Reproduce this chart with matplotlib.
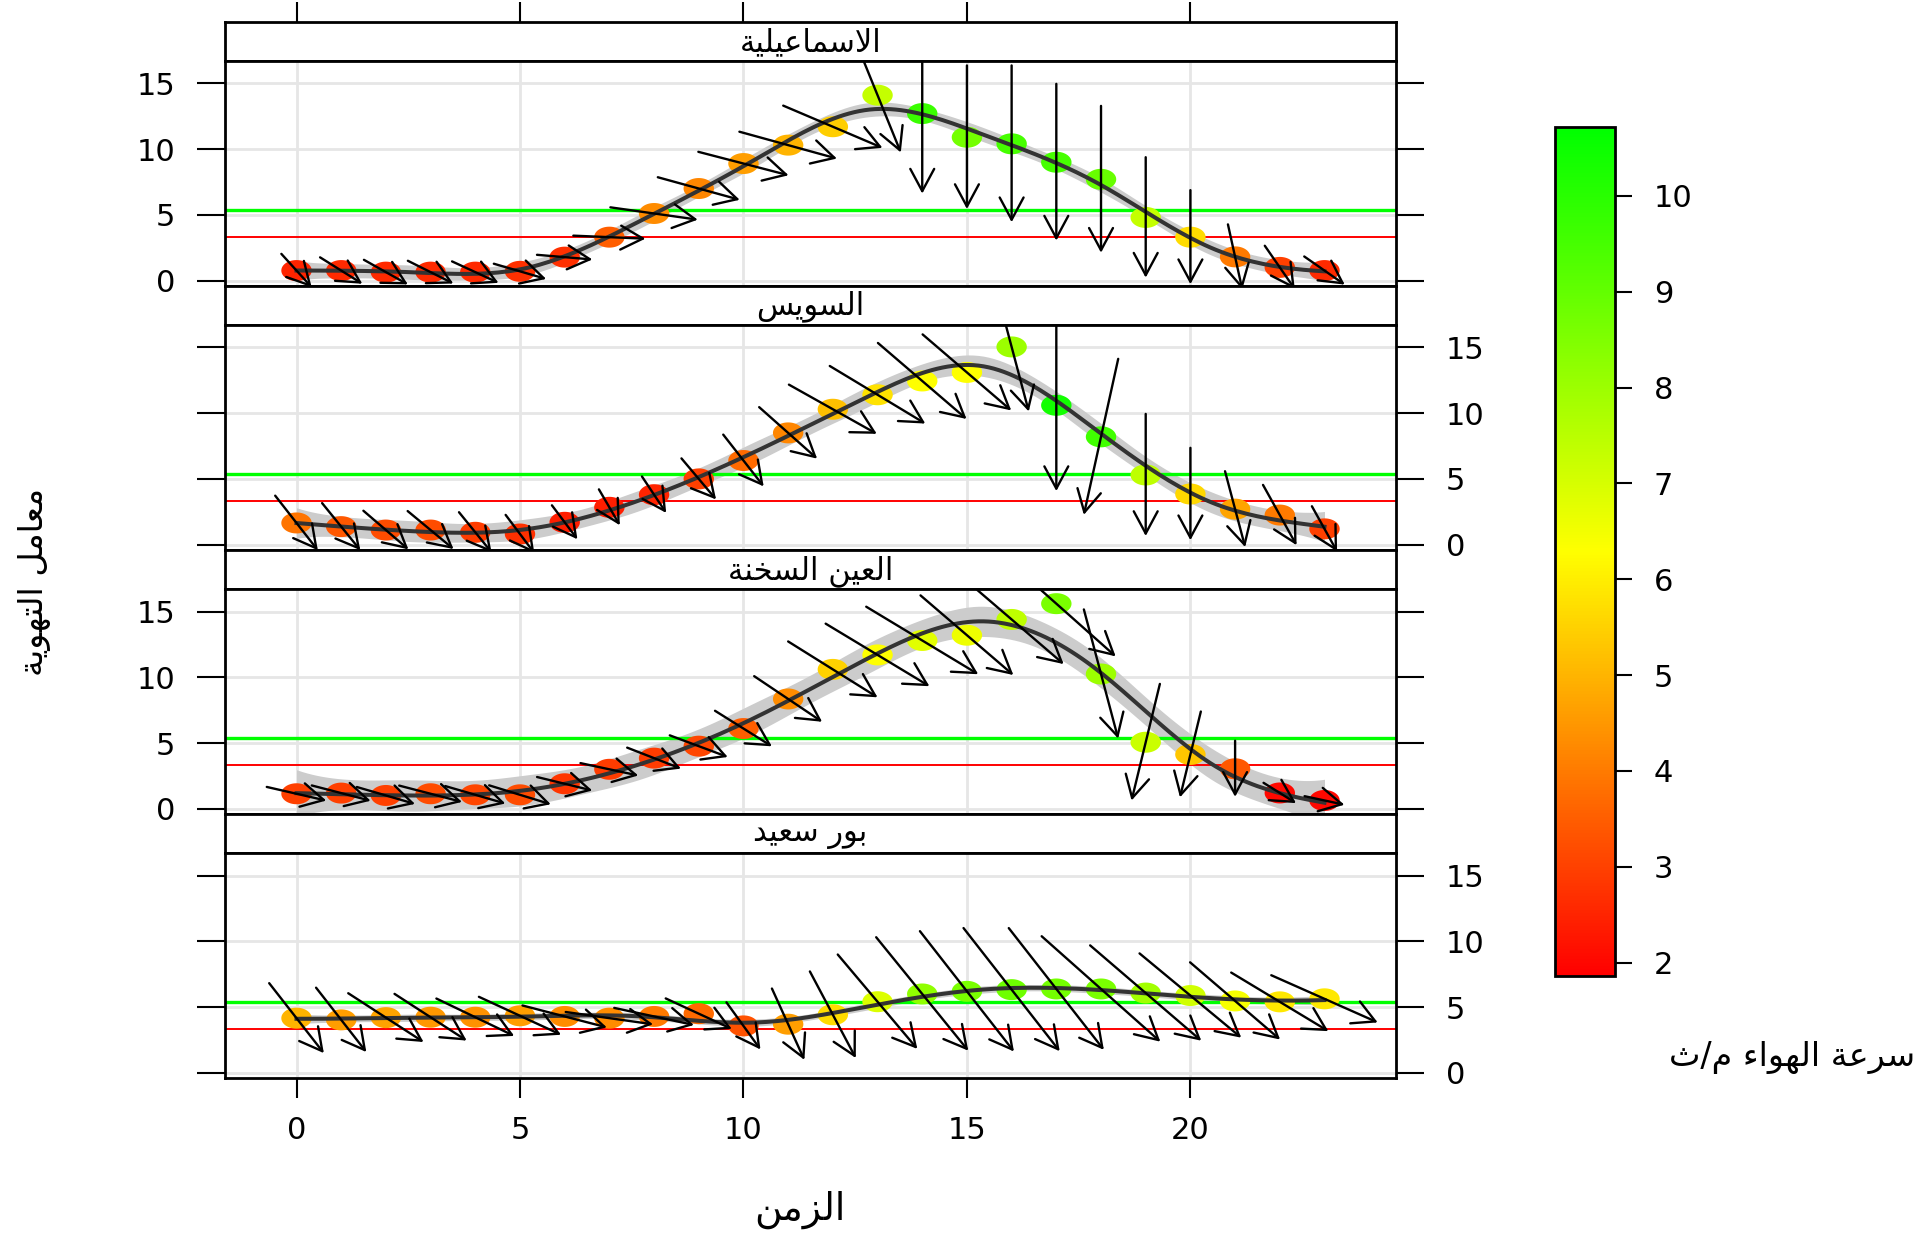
import numpy as np
import matplotlib
matplotlib.use("Agg")
import matplotlib.pyplot as plt
from matplotlib.colors import LinearSegmentedColormap, Normalize
from matplotlib.cm import ScalarMappable
from matplotlib.patches import FancyArrowPatch
from matplotlib.path import Path

plt.rcParams['font.family'] = ['DejaVu Sans']

# ---- data ----
hours = list(range(24))
stations = ['الاسماعيلية', 'السويس', 'العين السخنة', 'بور سعيد']

# ventilation coefficient
vc_ismailia = [0.76, 0.76, 0.64, 0.64, 0.64, 0.7, 1.78, 3.3, 5.1, 7.0, 8.9, 10.3,
               11.7, 14.1, 12.7, 10.9, 10.4, 9.0, 7.7, 4.8, 3.3, 1.8, 1.0, 0.76]
vc_suez = [1.65, 1.37, 1.11, 1.11, 0.94, 0.81, 1.7, 2.84, 3.8, 5.0, 6.4, 8.5,
           10.3, 11.4, 12.45, 13.1, 15.04, 10.6, 8.2, 5.3, 3.85, 2.7, 2.25, 1.2]
vc_sokhna = [1.14, 1.19, 1.01, 1.14, 1.06, 1.06, 1.9, 3.0, 3.85, 4.76, 6.1, 8.35,
             10.6, 11.7, 12.8, 13.2, 14.4, 15.6, 10.25, 5.06, 4.13, 3.04, 1.2, 0.63]
vc_portsaid = [4.16, 4.03, 4.2, 4.23, 4.23, 4.34, 4.29, 4.16, 4.29, 4.5, 3.57, 3.7,
               4.42, 5.41, 6.0, 6.2, 6.33, 6.38, 6.38, 6.07, 5.88, 5.47, 5.4, 5.63]

# wind speed (m/s)
ws_ismailia = [2.5, 2.6, 2.6, 2.6, 2.6, 2.7, 2.7, 3.5, 4.3, 4.2, 4.6, 5.0,
               5.45, 7.3, 9.7, 8.7, 9.5, 9.5, 8.9, 7.3, 5.7, 4.0, 3.0, 2.6]
ws_suez = [3.9, 3.4, 3.2, 3.2, 2.9, 2.7, 2.4, 2.4, 2.5, 3.0, 3.7, 4.2,
           5.2, 5.8, 6.3, 6.3, 8.0, 10.4, 9.6, 7.4, 5.6, 4.7, 4.0, 3.0]
ws_sokhna = [3.0, 3.0, 3.0, 3.2, 3.1, 3.2, 2.8, 2.9, 2.9, 3.1, 3.5, 4.3,
             5.5, 6.3, 6.8, 6.6, 7.4, 8.6, 8.0, 7.2, 5.3, 3.4, 2.0, 2.0]
ws_portsaid = [5.0, 4.6, 4.7, 4.5, 4.4, 4.6, 4.3, 4.3, 4.0, 3.7, 3.3, 4.6,
               5.7, 6.9, 8.2, 8.6, 8.8, 8.7, 8.6, 7.9, 7.1, 6.4, 5.9, 5.9]

# wind direction (degrees, blowing from)
wd_ismailia = [324, 308, 305, 302, 300, 290, 276, 273, 280, 289, 288, 289,
               298, 342, 0, 0, 0, 0, 0, 0, 0, 350, 331, 311]
wd_suez = [328, 327, 317, 316, 327, 329, 329, 335, 332, 326, 328, 318,
           305, 307, 317, 317, 348, 0, 10, 0, 0, 348, 336, 336]
wd_sokhna = [286, 288, 290, 288, 290, 291, 287, 285, 296, 295, 308, 310,
             308, 307, 307, 317, 317, 318, 348, 11, 11, 0, 308, 285]
wd_portsaid = [328, 328, 309, 309, 301, 300, 288, 280, 285, 300, 330, 340,
               337, 326, 327, 328, 328, 328, 318, 317, 316, 317, 307, 299]

vc_all = [vc_ismailia, vc_suez, vc_sokhna, vc_portsaid]
ws_all = [ws_ismailia, ws_suez, ws_sokhna, ws_portsaid]
wd_all = [wd_ismailia, wd_suez, wd_sokhna, wd_portsaid]

green_level = 5.4
red_level = 3.35

# ---- minimal arabic shaping (presentation forms + reversal) ----
FORMS = {
    'ء': ('\uFE80', None, None, None),
    'ا': ('\uFE8D', '\uFE8E', None, None),
    'ب': ('\uFE8F', '\uFE90', '\uFE91', '\uFE92'),
    'ة': ('\uFE93', '\uFE94', None, None),
    'ت': ('\uFE95', '\uFE96', '\uFE97', '\uFE98'),
    'ث': ('\uFE99', '\uFE9A', '\uFE9B', '\uFE9C'),
    'خ': ('\uFEA5', '\uFEA6', '\uFEA7', '\uFEA8'),
    'د': ('\uFEA9', '\uFEAA', None, None),
    'ر': ('\uFEAD', '\uFEAE', None, None),
    'ز': ('\uFEAF', '\uFEB0', None, None),
    'س': ('\uFEB1', '\uFEB2', '\uFEB3', '\uFEB4'),
    'ع': ('\uFEC9', '\uFECA', '\uFECB', '\uFECC'),
    'ل': ('\uFEDD', '\uFEDE', '\uFEDF', '\uFEE0'),
    'م': ('\uFEE1', '\uFEE2', '\uFEE3', '\uFEE4'),
    'ن': ('\uFEE5', '\uFEE6', '\uFEE7', '\uFEE8'),
    'ه': ('\uFEE9', '\uFEEA', '\uFEEB', '\uFEEC'),
    'و': ('\uFEED', '\uFEEE', None, None),
    'ي': ('\uFEF1', '\uFEF2', '\uFEF3', '\uFEF4'),
}


def ar(txt):
    out = []
    i = 0
    while i < len(txt):
        c = txt[i]
        if c not in FORMS:
            out.append(c)
            i += 1
            continue
        prev = txt[i - 1] if i > 0 else ''
        join_prev = prev in FORMS and FORMS[prev][2] is not None
        if c == 'ل' and i + 1 < len(txt) and txt[i + 1] == 'ا':
            out.append('\uFEFC' if join_prev else '\uFEFB')
            i += 2
            continue
        nxt = txt[i + 1] if i + 1 < len(txt) else ''
        iso, fin, ini, med = FORMS[c]
        join_next = ini is not None and nxt in FORMS
        if join_prev and join_next:
            out.append(med)
        elif join_prev:
            out.append(fin)
        elif join_next:
            out.append(ini)
        else:
            out.append(iso)
        i += 1
    return ''.join(reversed(out))


# penalised spline smoother (gam-like), lambda by GCV
def bbase(x, xl, xr, nseg=9, deg=3):
    x = np.asarray(x, float)
    dx = (xr - xl) / nseg
    knots = xl + dx * np.arange(-deg, nseg + deg + 1)
    B = ((x[:, None] >= knots[None, :-1]) & (x[:, None] < knots[None, 1:])).astype(float)
    for d in range(1, deg + 1):
        left = (x[:, None] - knots[None, :-d - 1]) / (knots[None, d:-1] - knots[None, :-d - 1])
        right = (knots[None, d + 1:] - x[:, None]) / (knots[None, d + 1:] - knots[None, 1:-d])
        B = left * B[:, :-1] + right * B[:, 1:]
    return B


def smoother(x, y, xs):
    x = np.asarray(x, float)
    y = np.asarray(y, float)
    n = len(x)
    xl, xr = x.min() - 1e-6, x.max() + 1e-6
    B = bbase(x, xl, xr)
    Bs = bbase(xs, xl, xr)
    D = np.diff(np.eye(B.shape[1]), 2, axis=0)
    P = D.T @ D
    best = None
    for lam in np.logspace(-3, 3, 61):
        G = np.linalg.inv(B.T @ B + lam * P)
        Hm = B @ G @ B.T
        res = y - Hm @ y
        edf = np.trace(Hm)
        gcv = n * (res @ res) / (n - edf) ** 2
        if best is None or gcv < best[0]:
            best = (gcv, G, res @ res / (n - edf))
    _, G, s2 = best
    fit = Bs @ G @ B.T @ y
    se = np.sqrt(s2 * np.einsum('ij,jk,ik->i', Bs, G, Bs))
    return fit, se


cmap = LinearSegmentedColormap.from_list('ws', ['#FF0000', '#FFFF00', '#00FF00'])
norm = Normalize(vmin=1.86, vmax=10.72)

t = np.linspace(0, 2 * np.pi, 60)
ellipse = Path(np.column_stack([1.45 * np.cos(t), np.sin(t)]), closed=True)

# ---- layout ----
W, H = 1933, 1235
fig = plt.figure(figsize=(W / 100, H / 100), dpi=100)
left_px, right_px = 225, 1396
top_px = 21.7
strip_h, panel_h = 39.3, 224.8
xlim = (-1.6, 24.6)
ylim = (-0.4, 16.7)
px_x = (right_px - left_px) / (xlim[1] - xlim[0])
px_y = panel_h / (ylim[1] - ylim[0])
k_len = 16.5  # arrow length in px per m/s

xs = np.linspace(0, 23, 200)

for k in range(4):
    y_top = top_px + k * (strip_h + panel_h)
    sax = fig.add_axes([left_px / W, 1 - (y_top + strip_h) / H,
                        (right_px - left_px) / W, strip_h / H])
    pax = fig.add_axes([left_px / W, 1 - (y_top + strip_h + panel_h) / H,
                        (right_px - left_px) / W, panel_h / H])

    # strip
    sax.set_xlim(xlim)
    sax.set_yticks([])
    sax.text(0.5, 0.47, ar(stations[k]), transform=sax.transAxes,
             ha='center', va='center', fontsize=22)
    for s in sax.spines.values():
        s.set_linewidth(2)
    if k == 0:
        sax.set_xticks([0, 5, 10, 15, 20])
        sax.tick_params(axis='x', top=True, bottom=False, labeltop=False,
                        labelbottom=False, length=14.4, width=1.5, direction='out')
    else:
        sax.set_xticks([])

    # panel
    vc = np.array(vc_all[k])
    ws = np.array(ws_all[k])
    wd = np.array(wd_all[k])
    pax.set_xlim(xlim)
    pax.set_ylim(ylim)
    for gx in [0, 5, 10, 15, 20]:
        pax.axvline(gx, color='#E6E6E6', lw=2, zorder=0)
    for gy in [0, 5, 10, 15]:
        pax.axhline(gy, color='#E6E6E6', lw=2, zorder=0)

    fit, se = smoother(hours, vc, xs)
    pax.fill_between(xs, fit - 2 * se, fit + 2 * se, color='#CCCCCC', lw=0, zorder=1)
    pax.axhline(green_level, color='#00FF00', lw=2.4, zorder=2)
    pax.axhline(red_level, color='#FF0000', lw=1.4, zorder=2)
    pax.scatter(hours, vc, c=ws, cmap=cmap, norm=norm, marker=ellipse,
                s=480, linewidths=0, zorder=3)
    pax.plot(xs, fit, color='#333333', lw=2.9, zorder=4)

    # wind arrows centred on the points
    h = np.radians(wd + 180)
    hx = 0.5 * ws * k_len * 1.25 * np.sin(h) / px_x
    hy = 0.5 * ws * k_len * np.cos(h) / px_y
    for xi, yi, dx, dy in zip(hours, vc, hx, hy):
        arr = FancyArrowPatch((xi - dx, yi - dy), (xi + dx, yi + dy),
                              arrowstyle='->,head_length=16,head_width=8.6',
                              mutation_scale=1, lw=1.7, color='black',
                              shrinkA=0, shrinkB=0, zorder=5)
        pax.add_patch(arr)

    for s in pax.spines.values():
        s.set_linewidth(2)
    pax.set_yticks([0, 5, 10, 15])
    pax.tick_params(axis='y', left=True, right=True, length=20, width=1.5,
                    direction='out', labelsize=22,
                    labelleft=(k % 2 == 0), labelright=(k % 2 == 1), pad=16)
    if k == 3:
        pax.set_xticks([0, 5, 10, 15, 20])
        pax.tick_params(axis='x', bottom=True, top=False, length=14.4, width=1.5,
                        direction='out', labelsize=22, pad=13)
    else:
        pax.set_xticks([])

# colorbar
cax = fig.add_axes([1555 / W, 1 - 976 / H, 60 / W, 849 / H])
cb = fig.colorbar(ScalarMappable(norm=norm, cmap=cmap), cax=cax)
cb.set_ticks(range(2, 11))
cb.outline.set_linewidth(2)
cax.tick_params(length=12, width=1.5, labelsize=22, pad=16)

fig.text(1915 / W, 1 - 1058 / H, ar('سرعة الهواء م/ث'), ha='right', va='center', fontsize=24)
fig.text(35 / W, 1 - 582 / H, ar('معامل التهوية'), rotation=90, ha='center', va='center', fontsize=24)
fig.text(800 / W, 1 - 1210 / H, ar('الزمن'), ha='center', va='center', fontsize=27)

fig.savefig('out.png', dpi=100)
